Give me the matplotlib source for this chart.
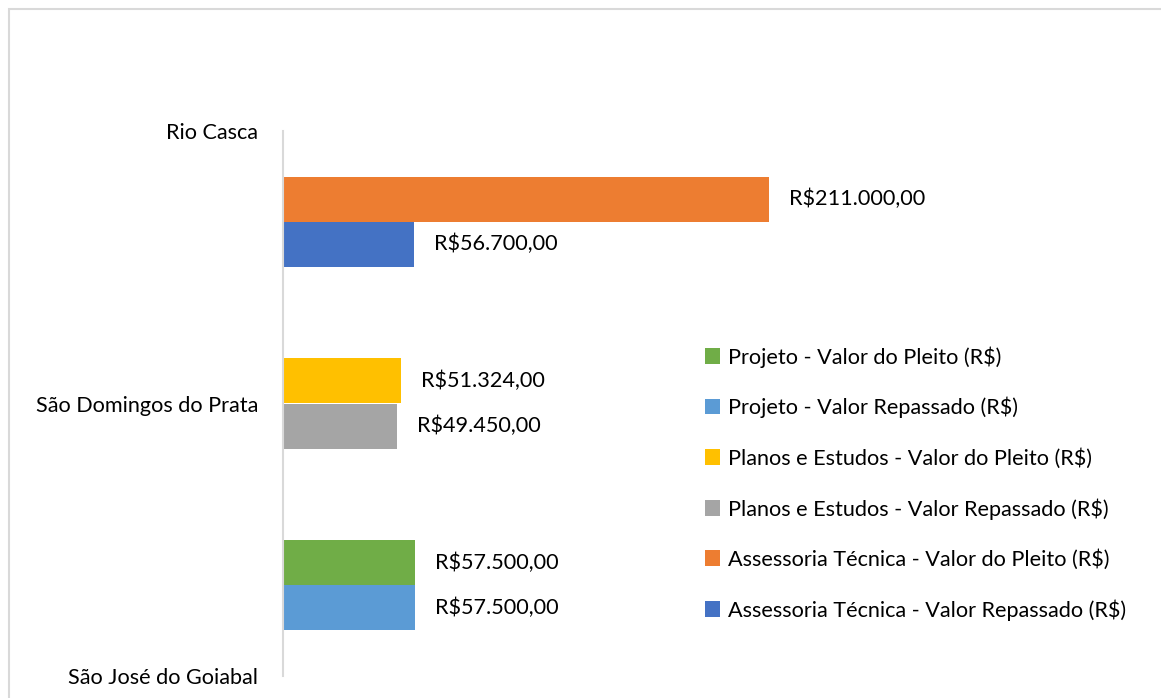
import numpy as np
import matplotlib
matplotlib.use("Agg")
import matplotlib.pyplot as plt
from matplotlib.patches import Rectangle, Patch

plt.rcParams['font.family'] = ['Lato', 'DejaVu Sans']

# Data
categories = ["Rio Casca", "São Domingos do Prata", "São José do Goiabal"]
projeto_pleito = [0, 0, 57500]
projeto_repassado = [0, 0, 57500]
planos_pleito = [0, 51324, 0]
planos_repassado = [0, 49450, 0]
assessoria_pleito = [211000, 0, 0]
assessoria_repassado = [56700, 0, 0]

series_names = [
    "Projeto - Valor do Pleito (R$)",
    "Projeto - Valor Repassado (R$)",
    "Planos e Estudos - Valor do Pleito (R$)",
    "Planos e Estudos - Valor Repassado (R$)",
    "Assessoria Técnica - Valor do Pleito (R$)",
    "Assessoria Técnica - Valor Repassado (R$)",
]
series_values = [projeto_pleito, projeto_repassado, planos_pleito,
                 planos_repassado, assessoria_pleito, assessoria_repassado]
colors = ["#70AD47", "#5B9BD5", "#FFC000", "#A5A5A5", "#ED7D31", "#4472C4"]


def brl(v):
    s = f"{v:,.2f}"
    return "R$" + s.replace(",", "X").replace(".", ",").replace("X", ".")


W, H = 1161, 698
FS = 15.6
fig = plt.figure(figsize=(W / 100, H / 100), dpi=100)

# chart border (Excel chart area)
fig.patches.append(Rectangle((9 / W, -0.1), 1.2, 1 - 9 / H + 0.1,
                             transform=fig.transFigure, fill=False,
                             edgecolor="#D9D9D9", linewidth=1.5))

ax_left, ax_top, ax_bottom = 283, 131, 676
px_per_unit = (769 - 283) / 211000
ax_right = 1100
ax = fig.add_axes([ax_left / W, 1 - ax_bottom / H,
                   (ax_right - ax_left) / W, (ax_bottom - ax_top) / H])
ax.set_xlim(0, (ax_right - ax_left) / px_per_unit)
ax.set_ylim(2.5, -0.5)

y = np.arange(len(categories))
bar_h = 0.248

for i, (name, vals, col) in enumerate(zip(series_names, series_values, colors)):
    vals = np.array(vals, dtype=float)
    offset = -bar_h / 2 if i % 2 == 0 else bar_h / 2
    mask = vals > 0
    ax.barh(y[mask] + offset, vals[mask], height=bar_h, color=col, label=name)
    for yy, v in zip(y[mask] + offset, vals[mask]):
        ax.annotate(brl(v), (v, yy), xytext=(20, 0), textcoords="offset pixels",
                    ha="left", va="center", fontsize=FS, color="#000000")

for s in ["top", "right", "bottom"]:
    ax.spines[s].set_visible(False)
ax.spines["left"].set_color("#D9D9D9")
ax.spines["left"].set_linewidth(1.5)
ax.set_xticks([])
ax.set_yticks([-0.5, 1.0, 2.5])
ax.set_yticklabels(categories, fontsize=FS)
ax.tick_params(axis="y", length=0, pad=18)

handles = [Patch(facecolor=c) for c in colors]
fig.legend(handles, series_names, loc="upper left",
           bbox_to_anchor=(705 / W, 1 - 346 / H), frameon=False,
           borderpad=0, borderaxespad=0,
           fontsize=FS, handlelength=0.7, handleheight=0.7,
           handletextpad=0.35, labelspacing=1.36)

fig.savefig("out.png", dpi=100)
